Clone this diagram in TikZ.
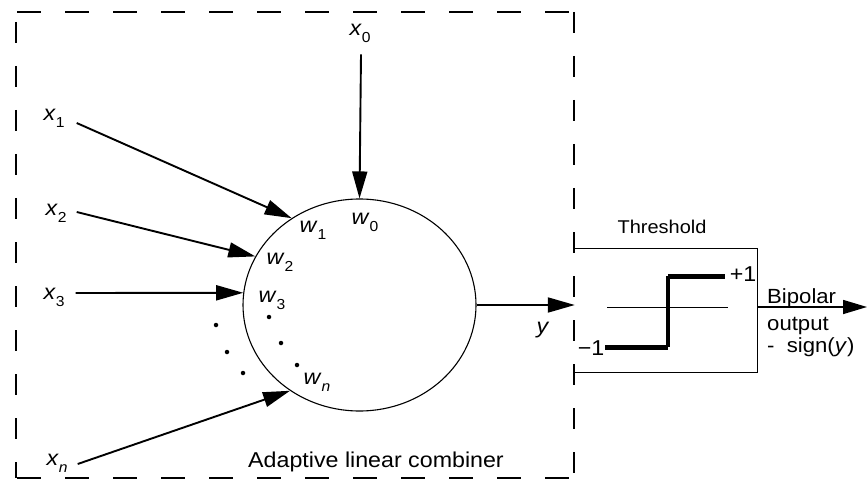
\documentclass[tikz,border=0pt]{standalone}
\usepackage{fontspec}
\setmainfont{Liberation Sans}[FakeStretch=1.08]
\usetikzlibrary{arrows.meta,shapes.geometric}
\newcommand\sbs[1]{\raisebox{-0.32em}{\fontsize{14.5}{14.5}\selectfont #1}}
\begin{document}
\begin{tikzpicture}[x=1pt,y=-1pt,
  lbl/.style={inner sep=0pt,font=\fontsize{21.5}{25}\selectfont},
  inarrow/.style={line width=1.9pt,-{Triangle[length=27pt,width=15pt]}},
  frame/.style={line width=1.8pt},
  dotpt/.style={fill=black,circle,inner sep=0pt,minimum size=4.5pt}]
\useasboundingbox (0,0) rectangle (867,481);
% dashed frame
\draw[frame,dash pattern=on 24pt off 24pt] (17,12) -- (574,12);
\draw[frame,dash pattern=on 21pt off 23pt] (574,12) -- (574,478);
\draw[frame,dash pattern=on 21pt off 23pt,dash phase=-10pt] (16,12) -- (16,478);
\draw[frame,dash pattern=on 24pt off 24pt] (17,478) -- (574,478);
% combiner
\node[ellipse,draw,line width=1.1pt,minimum width=233pt,minimum height=212pt,inner sep=0pt] (c) at (359.5,305) {};
\node[lbl] (x0) at (360,33) {\textit{x}\sbs{0}};
\node[lbl] (x1) at (54,118) {\textit{x}\sbs{1}};
\node[lbl] (x2) at (56,213) {\textit{x}\sbs{2}};
\node[lbl] (x3) at (54,297) {\textit{x}\sbs{3}};
\node[lbl] (xn) at (57,463) {\textit{x}\sbs{\textit{n}}};
\draw[inarrow] ([xshift=1pt,yshift=-12pt]x0.south) -- (c.north);
\draw[inarrow] ([xshift=12pt,yshift=-5pt]x1.east) -- (c.128.6);
\draw[inarrow] ([xshift=10pt,yshift=1pt]x2.east) -- (c.155.3);
\draw[inarrow] ([xshift=11pt,yshift=4pt]x3.east) -- (c.174.6);
\draw[inarrow] ([xshift=10pt,yshift=-1pt]xn.east) -- (c.231);
\node[lbl] (w0) at (365,222) {\textit{w}\sbs{0}};
\node[lbl] (w1) at (313,230) {\textit{w}\sbs{1}};
\node[lbl] (w2) at (280,262) {\textit{w}\sbs{2}};
\node[lbl] (w3) at (272,300) {\textit{w}\sbs{3}};
\node[lbl] (wn) at (317,382) {\textit{w}\sbs{\textit{n}}};
\node[dotpt] (d1) at (216,325) {};
\node[dotpt] (d2) at (227,352) {};
\node[dotpt] (d3) at (243,373) {};
\node[dotpt] (d4) at (269,317) {};
\node[dotpt] (d5) at (281,343) {};
\node[dotpt] (d6) at (297,365) {};
\node[lbl,font=\fontsize{21.5}{25}\selectfont] (alc) at (376,462) {Adaptive linear combiner};
% threshold
\node[minimum width=182pt,minimum height=123pt,inner sep=0pt] (th) at (666,310.5) {};
\draw[line width=0.9pt] (th.north west) -- (th.north east) -- (th.south east) -- (th.south west);
\node[lbl,font=\fontsize{18.5}{22}\selectfont] (thl) at (662,227) {Threshold};
\draw[inarrow] (c.east) -- (c.east -| th.west);
\node[lbl] (y) at (543,330) {\textit{y}};
\coordinate (ax1) at (607,307);
\coordinate (ax2) at (728,307);
\draw[line width=0.8pt] (ax1) -- (ax2);
\coordinate (s1) at (605,347);
\coordinate (s2) at (668,347);
\coordinate (s3) at (668,276);
\coordinate (s4) at (725,276);
\draw[line width=5pt] (s1) -- (s2);
\draw[line width=3.5pt] (s2) -- (s3);
\draw[line width=5pt] (s3) -- (s4);
\node[lbl] (p1) at (743,274) {+1};
\node[lbl] (m1) at (591,348) {−1};
\coordinate (outtip) at (867,307);
\draw[line width=1.6pt,-{Triangle[length=24pt,width=14pt]}] (th.east |- outtip) -- (outtip);
\node[lbl,anchor=base west,font=\fontsize{20.5}{24}\selectfont] (bp) at (767,303) {Bipolar};
\node[lbl,anchor=base west,font=\fontsize{20.5}{24}\selectfont] (op) at (767,330) {output};
\node[lbl,anchor=base west,font=\fontsize{20.5}{24}\selectfont] (sg) at (767,352) {-\ \ sign(\textit{y})};
\end{tikzpicture}
\end{document}
